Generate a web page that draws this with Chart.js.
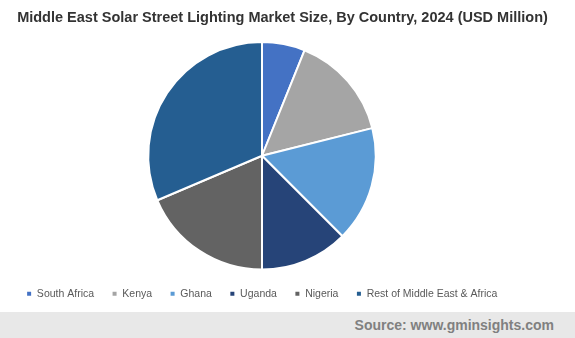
<!DOCTYPE html>
<html>
<head>
<meta charset="utf-8">
<script src="https://cdn.jsdelivr.net/npm/chart.js@4"></script>
<style>
  body { margin: 0; background: #fff; }
  #wrap { position: relative; width: 575px; height: 338px; overflow: hidden; }
  #title { position: absolute; left: 0; top: 0; width: 565px; height: 34px;
    text-align: center; font: bold 14.5px "Liberation Sans", Arial, sans-serif; line-height: 34px; color: #333; }
  #box { position: absolute; left: 0; top: 0; width: 575px; height: 312px; }
  #foot { position: absolute; left: 0; top: 312px; width: 575px; height: 26px; background: #e8e8e8; }
  #foot span { position: absolute; right: 21px; top: 0; font: bold 14px "Liberation Sans", Arial, sans-serif; line-height: 26px; color: #808080; }
</style>
</head>
<body>
<div id="wrap">
  <div id="box"><canvas id="myChart"></canvas></div>
  <div id="title">Middle East Solar Street Lighting Market Size, By Country, 2024 (USD Million)</div>
  <div id="foot"><span>Source: www.gminsights.com</span></div>
</div>
<script>
    const labels = ["South Africa", "Kenya", "Ghana", "Uganda", "Nigeria", "Rest of Middle East & Africa"];
    // share of the pie
    const values = [6.1, 15.0, 16.4, 12.5, 18.6, 31.4];
    const colors = ["#4472C4", "#A5A5A5", "#5B9BD5", "#264478", "#636363", "#255E91"];

    const config = {
      type: 'pie',
      data: {
        labels: labels,
        datasets: [{
          data: values,
          backgroundColor: colors,
          borderColor: '#ffffff',
          borderWidth: 2
        }]
      },
      options: {
        responsive: false,
        animation: false,
        layout: {
          padding: { top: 41, bottom: 3, left: 0, right: 51 }
        },
        plugins: {
          tooltip: { enabled: false },
          legend: {
            position: 'bottom',
            labels: {
              usePointStyle: true,
              pointStyle: 'rect',
              boxWidth: 5,
              boxHeight: 6,
              padding: 18,
              color: '#595959',
              font: { family: "'Liberation Sans', Arial, sans-serif", size: 10.5 }
            }
          }
        }
      }
    };

    const canvas = document.getElementById('myChart');
    canvas.width = 575;
    canvas.height = 312;
    const myChart = new Chart(canvas, config);
</script>
</body>
</html>
